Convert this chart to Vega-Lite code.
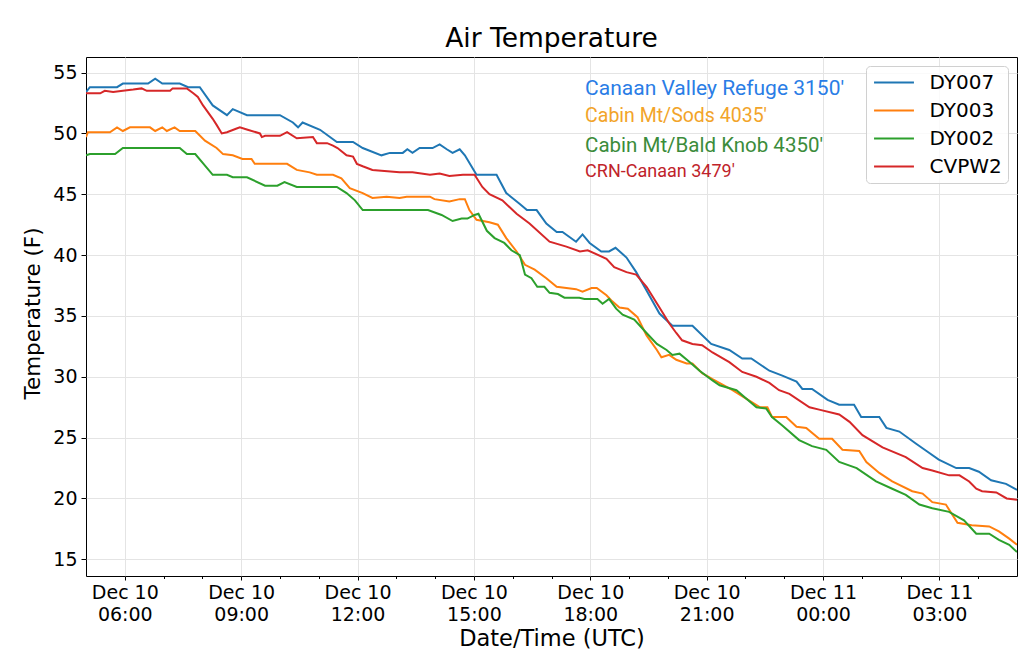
{
  "$schema": "https://vega.github.io/schema/vega-lite/v6.json",
  "width": 931,
  "height": 519,
  "autosize": {"type": "none"},
  "padding": {"left": 86, "top": 57, "right": 7, "bottom": 83},
  "background": "white",
  "config": {
    "font": "DejaVu Sans",
    "view": {"stroke": "#000", "strokeWidth": 1}
  },
  "title": {"text": "Air Temperature", "fontSize": 26.5, "fontWeight": "normal", "font": "DejaVu Sans", "color": "#000", "offset": 9, "dy": 25, "anchor": "middle", "baseline": "alphabetic"},
  "resolve": {"axis": {"x": "independent"}},
  "layer": [
    {
      "data": {"values": [
        {"station":"DY007","time":"2019-12-10T05:00Z","temp":53.4},
        {"station":"DY007","time":"2019-12-10T05:06Z","temp":53.8},
        {"station":"DY007","time":"2019-12-10T05:48Z","temp":53.8},
        {"station":"DY007","time":"2019-12-10T05:57Z","temp":54.1},
        {"station":"DY007","time":"2019-12-10T06:36Z","temp":54.1},
        {"station":"DY007","time":"2019-12-10T06:47Z","temp":54.5},
        {"station":"DY007","time":"2019-12-10T06:58Z","temp":54.1},
        {"station":"DY007","time":"2019-12-10T07:25Z","temp":54.1},
        {"station":"DY007","time":"2019-12-10T07:38Z","temp":53.8},
        {"station":"DY007","time":"2019-12-10T07:56Z","temp":53.8},
        {"station":"DY007","time":"2019-12-10T08:16Z","temp":52.3},
        {"station":"DY007","time":"2019-12-10T08:38Z","temp":51.5},
        {"station":"DY007","time":"2019-12-10T08:47Z","temp":52.0},
        {"station":"DY007","time":"2019-12-10T09:09Z","temp":51.5},
        {"station":"DY007","time":"2019-12-10T10:00Z","temp":51.5},
        {"station":"DY007","time":"2019-12-10T10:20Z","temp":50.9},
        {"station":"DY007","time":"2019-12-10T10:28Z","temp":50.5},
        {"station":"DY007","time":"2019-12-10T10:35Z","temp":50.9},
        {"station":"DY007","time":"2019-12-10T11:02Z","temp":50.3},
        {"station":"DY007","time":"2019-12-10T11:28Z","temp":49.3},
        {"station":"DY007","time":"2019-12-10T11:53Z","temp":49.3},
        {"station":"DY007","time":"2019-12-10T12:08Z","temp":48.8},
        {"station":"DY007","time":"2019-12-10T12:37Z","temp":48.2},
        {"station":"DY007","time":"2019-12-10T12:50Z","temp":48.4},
        {"station":"DY007","time":"2019-12-10T13:10Z","temp":48.4},
        {"station":"DY007","time":"2019-12-10T13:17Z","temp":48.7},
        {"station":"DY007","time":"2019-12-10T13:25Z","temp":48.4},
        {"station":"DY007","time":"2019-12-10T13:36Z","temp":48.8},
        {"station":"DY007","time":"2019-12-10T13:56Z","temp":48.8},
        {"station":"DY007","time":"2019-12-10T14:07Z","temp":49.1},
        {"station":"DY007","time":"2019-12-10T14:18Z","temp":48.7},
        {"station":"DY007","time":"2019-12-10T14:27Z","temp":48.4},
        {"station":"DY007","time":"2019-12-10T14:38Z","temp":48.7},
        {"station":"DY007","time":"2019-12-10T14:46Z","temp":48.2},
        {"station":"DY007","time":"2019-12-10T15:04Z","temp":46.6},
        {"station":"DY007","time":"2019-12-10T15:35Z","temp":46.6},
        {"station":"DY007","time":"2019-12-10T15:50Z","temp":45.1},
        {"station":"DY007","time":"2019-12-10T16:11Z","temp":44.2},
        {"station":"DY007","time":"2019-12-10T16:22Z","temp":43.7},
        {"station":"DY007","time":"2019-12-10T16:37Z","temp":43.7},
        {"station":"DY007","time":"2019-12-10T16:52Z","temp":42.6},
        {"station":"DY007","time":"2019-12-10T17:08Z","temp":41.9},
        {"station":"DY007","time":"2019-12-10T17:17Z","temp":41.9},
        {"station":"DY007","time":"2019-12-10T17:38Z","temp":41.1},
        {"station":"DY007","time":"2019-12-10T17:48Z","temp":41.7},
        {"station":"DY007","time":"2019-12-10T17:59Z","temp":41.0},
        {"station":"DY007","time":"2019-12-10T18:17Z","temp":40.3},
        {"station":"DY007","time":"2019-12-10T18:29Z","temp":40.3},
        {"station":"DY007","time":"2019-12-10T18:39Z","temp":40.6},
        {"station":"DY007","time":"2019-12-10T18:56Z","temp":39.8},
        {"station":"DY007","time":"2019-12-10T19:11Z","temp":38.6},
        {"station":"DY007","time":"2019-12-10T19:27Z","temp":37.1},
        {"station":"DY007","time":"2019-12-10T19:47Z","temp":35.2},
        {"station":"DY007","time":"2019-12-10T20:07Z","temp":34.2},
        {"station":"DY007","time":"2019-12-10T20:38Z","temp":34.2},
        {"station":"DY007","time":"2019-12-10T21:07Z","temp":32.7},
        {"station":"DY007","time":"2019-12-10T21:35Z","temp":32.2},
        {"station":"DY007","time":"2019-12-10T21:55Z","temp":31.5},
        {"station":"DY007","time":"2019-12-10T22:09Z","temp":31.5},
        {"station":"DY007","time":"2019-12-10T22:37Z","temp":30.5},
        {"station":"DY007","time":"2019-12-10T22:57Z","temp":30.1},
        {"station":"DY007","time":"2019-12-10T23:19Z","temp":29.6},
        {"station":"DY007","time":"2019-12-10T23:28Z","temp":29.0},
        {"station":"DY007","time":"2019-12-10T23:43Z","temp":29.0},
        {"station":"DY007","time":"2019-12-11T00:07Z","temp":28.1},
        {"station":"DY007","time":"2019-12-11T00:25Z","temp":27.7},
        {"station":"DY007","time":"2019-12-11T00:48Z","temp":27.7},
        {"station":"DY007","time":"2019-12-11T00:59Z","temp":26.7},
        {"station":"DY007","time":"2019-12-11T01:27Z","temp":26.7},
        {"station":"DY007","time":"2019-12-11T01:38Z","temp":25.8},
        {"station":"DY007","time":"2019-12-11T01:58Z","temp":25.5},
        {"station":"DY007","time":"2019-12-11T02:24Z","temp":24.5},
        {"station":"DY007","time":"2019-12-11T02:40Z","temp":23.9},
        {"station":"DY007","time":"2019-12-11T02:59Z","temp":23.2},
        {"station":"DY007","time":"2019-12-11T03:26Z","temp":22.5},
        {"station":"DY007","time":"2019-12-11T03:46Z","temp":22.5},
        {"station":"DY007","time":"2019-12-11T04:01Z","temp":22.2},
        {"station":"DY007","time":"2019-12-11T04:20Z","temp":21.5},
        {"station":"DY007","time":"2019-12-11T04:43Z","temp":21.2},
        {"station":"DY007","time":"2019-12-11T05:00Z","temp":20.7},

        {"station":"DY003","time":"2019-12-10T05:00Z","temp":49.7},
        {"station":"DY003","time":"2019-12-10T05:03Z","temp":50.1},
        {"station":"DY003","time":"2019-12-10T05:37Z","temp":50.1},
        {"station":"DY003","time":"2019-12-10T05:48Z","temp":50.5},
        {"station":"DY003","time":"2019-12-10T05:57Z","temp":50.2},
        {"station":"DY003","time":"2019-12-10T06:08Z","temp":50.5},
        {"station":"DY003","time":"2019-12-10T06:39Z","temp":50.5},
        {"station":"DY003","time":"2019-12-10T06:47Z","temp":50.2},
        {"station":"DY003","time":"2019-12-10T06:58Z","temp":50.5},
        {"station":"DY003","time":"2019-12-10T07:05Z","temp":50.2},
        {"station":"DY003","time":"2019-12-10T07:17Z","temp":50.5},
        {"station":"DY003","time":"2019-12-10T07:25Z","temp":50.2},
        {"station":"DY003","time":"2019-12-10T07:49Z","temp":50.2},
        {"station":"DY003","time":"2019-12-10T08:04Z","temp":49.4},
        {"station":"DY003","time":"2019-12-10T08:22Z","temp":48.8},
        {"station":"DY003","time":"2019-12-10T08:32Z","temp":48.3},
        {"station":"DY003","time":"2019-12-10T08:47Z","temp":48.2},
        {"station":"DY003","time":"2019-12-10T09:02Z","temp":47.9},
        {"station":"DY003","time":"2019-12-10T09:16Z","temp":47.9},
        {"station":"DY003","time":"2019-12-10T09:21Z","temp":47.5},
        {"station":"DY003","time":"2019-12-10T10:11Z","temp":47.5},
        {"station":"DY003","time":"2019-12-10T10:26Z","temp":47.0},
        {"station":"DY003","time":"2019-12-10T10:46Z","temp":46.8},
        {"station":"DY003","time":"2019-12-10T10:57Z","temp":46.6},
        {"station":"DY003","time":"2019-12-10T11:22Z","temp":46.6},
        {"station":"DY003","time":"2019-12-10T11:35Z","temp":46.3},
        {"station":"DY003","time":"2019-12-10T11:48Z","temp":45.5},
        {"station":"DY003","time":"2019-12-10T12:08Z","temp":45.1},
        {"station":"DY003","time":"2019-12-10T12:23Z","temp":44.7},
        {"station":"DY003","time":"2019-12-10T12:45Z","temp":44.8},
        {"station":"DY003","time":"2019-12-10T13:05Z","temp":44.7},
        {"station":"DY003","time":"2019-12-10T13:16Z","temp":44.8},
        {"station":"DY003","time":"2019-12-10T13:52Z","temp":44.8},
        {"station":"DY003","time":"2019-12-10T13:59Z","temp":44.6},
        {"station":"DY003","time":"2019-12-10T14:22Z","temp":44.4},
        {"station":"DY003","time":"2019-12-10T14:38Z","temp":44.6},
        {"station":"DY003","time":"2019-12-10T14:46Z","temp":44.6},
        {"station":"DY003","time":"2019-12-10T14:53Z","temp":43.7},
        {"station":"DY003","time":"2019-12-10T15:04Z","temp":42.9},
        {"station":"DY003","time":"2019-12-10T15:24Z","temp":42.7},
        {"station":"DY003","time":"2019-12-10T15:37Z","temp":42.5},
        {"station":"DY003","time":"2019-12-10T15:50Z","temp":41.4},
        {"station":"DY003","time":"2019-12-10T16:06Z","temp":40.3},
        {"station":"DY003","time":"2019-12-10T16:19Z","temp":39.2},
        {"station":"DY003","time":"2019-12-10T16:34Z","temp":38.8},
        {"station":"DY003","time":"2019-12-10T16:52Z","temp":38.1},
        {"station":"DY003","time":"2019-12-10T17:08Z","temp":37.4},
        {"station":"DY003","time":"2019-12-10T17:23Z","temp":37.3},
        {"station":"DY003","time":"2019-12-10T17:38Z","temp":37.2},
        {"station":"DY003","time":"2019-12-10T17:48Z","temp":37.0},
        {"station":"DY003","time":"2019-12-10T18:02Z","temp":37.3},
        {"station":"DY003","time":"2019-12-10T18:10Z","temp":37.3},
        {"station":"DY003","time":"2019-12-10T18:25Z","temp":36.7},
        {"station":"DY003","time":"2019-12-10T18:34Z","temp":36.2},
        {"station":"DY003","time":"2019-12-10T18:45Z","temp":35.7},
        {"station":"DY003","time":"2019-12-10T18:58Z","temp":35.6},
        {"station":"DY003","time":"2019-12-10T19:13Z","temp":34.9},
        {"station":"DY003","time":"2019-12-10T19:27Z","temp":33.4},
        {"station":"DY003","time":"2019-12-10T19:43Z","temp":32.2},
        {"station":"DY003","time":"2019-12-10T19:50Z","temp":31.6},
        {"station":"DY003","time":"2019-12-10T20:02Z","temp":31.8},
        {"station":"DY003","time":"2019-12-10T20:13Z","temp":31.4},
        {"station":"DY003","time":"2019-12-10T20:29Z","temp":31.1},
        {"station":"DY003","time":"2019-12-10T20:38Z","temp":31.1},
        {"station":"DY003","time":"2019-12-10T20:53Z","temp":30.3},
        {"station":"DY003","time":"2019-12-10T21:09Z","temp":29.8},
        {"station":"DY003","time":"2019-12-10T21:40Z","temp":28.9},
        {"station":"DY003","time":"2019-12-10T22:01Z","temp":28.2},
        {"station":"DY003","time":"2019-12-10T22:22Z","temp":27.5},
        {"station":"DY003","time":"2019-12-10T22:34Z","temp":27.5},
        {"station":"DY003","time":"2019-12-10T22:41Z","temp":26.7},
        {"station":"DY003","time":"2019-12-10T23:03Z","temp":26.7},
        {"station":"DY003","time":"2019-12-10T23:19Z","temp":25.9},
        {"station":"DY003","time":"2019-12-10T23:34Z","temp":25.8},
        {"station":"DY003","time":"2019-12-10T23:54Z","temp":24.9},
        {"station":"DY003","time":"2019-12-11T00:14Z","temp":24.9},
        {"station":"DY003","time":"2019-12-11T00:30Z","temp":24.0},
        {"station":"DY003","time":"2019-12-11T00:56Z","temp":23.9},
        {"station":"DY003","time":"2019-12-11T01:07Z","temp":23.0},
        {"station":"DY003","time":"2019-12-11T01:27Z","temp":22.1},
        {"station":"DY003","time":"2019-12-11T01:47Z","temp":21.4},
        {"station":"DY003","time":"2019-12-11T02:18Z","temp":20.6},
        {"station":"DY003","time":"2019-12-11T02:34Z","temp":20.4},
        {"station":"DY003","time":"2019-12-11T02:49Z","temp":19.7},
        {"station":"DY003","time":"2019-12-11T03:10Z","temp":19.5},
        {"station":"DY003","time":"2019-12-11T03:28Z","temp":18.0},
        {"station":"DY003","time":"2019-12-11T03:50Z","temp":17.8},
        {"station":"DY003","time":"2019-12-11T04:17Z","temp":17.7},
        {"station":"DY003","time":"2019-12-11T04:32Z","temp":17.3},
        {"station":"DY003","time":"2019-12-11T04:48Z","temp":16.7},
        {"station":"DY003","time":"2019-12-11T05:00Z","temp":16.2},

        {"station":"DY002","time":"2019-12-10T05:00Z","temp":48.2},
        {"station":"DY002","time":"2019-12-10T05:06Z","temp":48.3},
        {"station":"DY002","time":"2019-12-10T05:45Z","temp":48.3},
        {"station":"DY002","time":"2019-12-10T05:57Z","temp":48.8},
        {"station":"DY002","time":"2019-12-10T07:25Z","temp":48.8},
        {"station":"DY002","time":"2019-12-10T07:36Z","temp":48.3},
        {"station":"DY002","time":"2019-12-10T07:49Z","temp":48.3},
        {"station":"DY002","time":"2019-12-10T08:16Z","temp":46.6},
        {"station":"DY002","time":"2019-12-10T08:38Z","temp":46.6},
        {"station":"DY002","time":"2019-12-10T08:47Z","temp":46.4},
        {"station":"DY002","time":"2019-12-10T09:09Z","temp":46.4},
        {"station":"DY002","time":"2019-12-10T09:37Z","temp":45.7},
        {"station":"DY002","time":"2019-12-10T09:56Z","temp":45.7},
        {"station":"DY002","time":"2019-12-10T10:07Z","temp":46.0},
        {"station":"DY002","time":"2019-12-10T10:26Z","temp":45.6},
        {"station":"DY002","time":"2019-12-10T11:28Z","temp":45.6},
        {"station":"DY002","time":"2019-12-10T11:43Z","temp":45.1},
        {"station":"DY002","time":"2019-12-10T11:56Z","temp":44.5},
        {"station":"DY002","time":"2019-12-10T12:08Z","temp":43.7},
        {"station":"DY002","time":"2019-12-10T13:49Z","temp":43.7},
        {"station":"DY002","time":"2019-12-10T14:10Z","temp":43.3},
        {"station":"DY002","time":"2019-12-10T14:27Z","temp":42.8},
        {"station":"DY002","time":"2019-12-10T14:41Z","temp":43.0},
        {"station":"DY002","time":"2019-12-10T14:50Z","temp":43.0},
        {"station":"DY002","time":"2019-12-10T15:01Z","temp":43.3},
        {"station":"DY002","time":"2019-12-10T15:07Z","temp":43.4},
        {"station":"DY002","time":"2019-12-10T15:20Z","temp":42.0},
        {"station":"DY002","time":"2019-12-10T15:32Z","temp":41.4},
        {"station":"DY002","time":"2019-12-10T15:47Z","temp":41.0},
        {"station":"DY002","time":"2019-12-10T15:58Z","temp":40.4},
        {"station":"DY002","time":"2019-12-10T16:11Z","temp":40.0},
        {"station":"DY002","time":"2019-12-10T16:19Z","temp":38.4},
        {"station":"DY002","time":"2019-12-10T16:29Z","temp":38.1},
        {"station":"DY002","time":"2019-12-10T16:38Z","temp":37.4},
        {"station":"DY002","time":"2019-12-10T16:49Z","temp":37.4},
        {"station":"DY002","time":"2019-12-10T16:57Z","temp":36.9},
        {"station":"DY002","time":"2019-12-10T17:10Z","temp":36.8},
        {"station":"DY002","time":"2019-12-10T17:20Z","temp":36.5},
        {"station":"DY002","time":"2019-12-10T17:43Z","temp":36.5},
        {"station":"DY002","time":"2019-12-10T17:51Z","temp":36.4},
        {"station":"DY002","time":"2019-12-10T18:11Z","temp":36.4},
        {"station":"DY002","time":"2019-12-10T18:19Z","temp":36.0},
        {"station":"DY002","time":"2019-12-10T18:29Z","temp":36.4},
        {"station":"DY002","time":"2019-12-10T18:40Z","temp":35.6},
        {"station":"DY002","time":"2019-12-10T18:50Z","temp":35.1},
        {"station":"DY002","time":"2019-12-10T19:08Z","temp":34.7},
        {"station":"DY002","time":"2019-12-10T19:27Z","temp":33.6},
        {"station":"DY002","time":"2019-12-10T19:43Z","temp":32.7},
        {"station":"DY002","time":"2019-12-10T19:58Z","temp":32.2},
        {"station":"DY002","time":"2019-12-10T20:07Z","temp":31.8},
        {"station":"DY002","time":"2019-12-10T20:18Z","temp":31.9},
        {"station":"DY002","time":"2019-12-10T20:34Z","temp":31.2},
        {"station":"DY002","time":"2019-12-10T20:49Z","temp":30.5},
        {"station":"DY002","time":"2019-12-10T21:09Z","temp":29.7},
        {"station":"DY002","time":"2019-12-10T21:20Z","temp":29.3},
        {"station":"DY002","time":"2019-12-10T21:46Z","temp":28.9},
        {"station":"DY002","time":"2019-12-10T22:17Z","temp":27.5},
        {"station":"DY002","time":"2019-12-10T22:32Z","temp":27.4},
        {"station":"DY002","time":"2019-12-10T22:41Z","temp":26.7},
        {"station":"DY002","time":"2019-12-10T22:57Z","temp":26.0},
        {"station":"DY002","time":"2019-12-10T23:23Z","temp":24.8},
        {"station":"DY002","time":"2019-12-10T23:43Z","temp":24.3},
        {"station":"DY002","time":"2019-12-11T00:05Z","temp":24.0},
        {"station":"DY002","time":"2019-12-11T00:25Z","temp":23.0},
        {"station":"DY002","time":"2019-12-11T00:52Z","temp":22.5},
        {"station":"DY002","time":"2019-12-11T01:22Z","temp":21.4},
        {"station":"DY002","time":"2019-12-11T01:47Z","temp":20.8},
        {"station":"DY002","time":"2019-12-11T02:08Z","temp":20.3},
        {"station":"DY002","time":"2019-12-11T02:29Z","temp":19.5},
        {"station":"DY002","time":"2019-12-11T02:49Z","temp":19.2},
        {"station":"DY002","time":"2019-12-11T03:15Z","temp":18.9},
        {"station":"DY002","time":"2019-12-11T03:38Z","temp":18.2},
        {"station":"DY002","time":"2019-12-11T03:57Z","temp":17.1},
        {"station":"DY002","time":"2019-12-11T04:17Z","temp":17.1},
        {"station":"DY002","time":"2019-12-11T04:32Z","temp":16.6},
        {"station":"DY002","time":"2019-12-11T04:48Z","temp":16.2},
        {"station":"DY002","time":"2019-12-11T05:00Z","temp":15.6},

        {"station":"CVPW2","time":"2019-12-10T05:00Z","temp":53.3},
        {"station":"CVPW2","time":"2019-12-10T05:22Z","temp":53.3},
        {"station":"CVPW2","time":"2019-12-10T05:29Z","temp":53.5},
        {"station":"CVPW2","time":"2019-12-10T05:42Z","temp":53.4},
        {"station":"CVPW2","time":"2019-12-10T05:57Z","temp":53.5},
        {"station":"CVPW2","time":"2019-12-10T06:13Z","temp":53.6},
        {"station":"CVPW2","time":"2019-12-10T06:26Z","temp":53.7},
        {"station":"CVPW2","time":"2019-12-10T06:34Z","temp":53.5},
        {"station":"CVPW2","time":"2019-12-10T07:10Z","temp":53.5},
        {"station":"CVPW2","time":"2019-12-10T07:14Z","temp":53.7},
        {"station":"CVPW2","time":"2019-12-10T07:36Z","temp":53.7},
        {"station":"CVPW2","time":"2019-12-10T07:46Z","temp":53.3},
        {"station":"CVPW2","time":"2019-12-10T07:53Z","temp":53.0},
        {"station":"CVPW2","time":"2019-12-10T08:01Z","temp":52.3},
        {"station":"CVPW2","time":"2019-12-10T08:16Z","temp":51.2},
        {"station":"CVPW2","time":"2019-12-10T08:22Z","temp":50.7},
        {"station":"CVPW2","time":"2019-12-10T08:30Z","temp":50.0},
        {"station":"CVPW2","time":"2019-12-10T08:38Z","temp":50.1},
        {"station":"CVPW2","time":"2019-12-10T08:53Z","temp":50.4},
        {"station":"CVPW2","time":"2019-12-10T08:58Z","temp":50.5},
        {"station":"CVPW2","time":"2019-12-10T09:10Z","temp":50.3},
        {"station":"CVPW2","time":"2019-12-10T09:29Z","temp":50.0},
        {"station":"CVPW2","time":"2019-12-10T09:32Z","temp":49.7},
        {"station":"CVPW2","time":"2019-12-10T09:37Z","temp":49.8},
        {"station":"CVPW2","time":"2019-12-10T10:00Z","temp":49.8},
        {"station":"CVPW2","time":"2019-12-10T10:11Z","temp":50.1},
        {"station":"CVPW2","time":"2019-12-10T10:26Z","temp":49.6},
        {"station":"CVPW2","time":"2019-12-10T10:51Z","temp":49.7},
        {"station":"CVPW2","time":"2019-12-10T10:57Z","temp":49.2},
        {"station":"CVPW2","time":"2019-12-10T11:13Z","temp":49.2},
        {"station":"CVPW2","time":"2019-12-10T11:22Z","temp":49.0},
        {"station":"CVPW2","time":"2019-12-10T11:29Z","temp":48.8},
        {"station":"CVPW2","time":"2019-12-10T11:43Z","temp":48.2},
        {"station":"CVPW2","time":"2019-12-10T11:53Z","temp":48.1},
        {"station":"CVPW2","time":"2019-12-10T11:59Z","temp":47.5},
        {"station":"CVPW2","time":"2019-12-10T12:08Z","temp":47.3},
        {"station":"CVPW2","time":"2019-12-10T12:23Z","temp":47.0},
        {"station":"CVPW2","time":"2019-12-10T13:05Z","temp":46.8},
        {"station":"CVPW2","time":"2019-12-10T13:25Z","temp":46.8},
        {"station":"CVPW2","time":"2019-12-10T13:52Z","temp":46.6},
        {"station":"CVPW2","time":"2019-12-10T14:07Z","temp":46.7},
        {"station":"CVPW2","time":"2019-12-10T14:22Z","temp":46.5},
        {"station":"CVPW2","time":"2019-12-10T14:43Z","temp":46.6},
        {"station":"CVPW2","time":"2019-12-10T15:01Z","temp":46.6},
        {"station":"CVPW2","time":"2019-12-10T15:13Z","temp":45.6},
        {"station":"CVPW2","time":"2019-12-10T15:24Z","temp":45.0},
        {"station":"CVPW2","time":"2019-12-10T15:44Z","temp":44.5},
        {"station":"CVPW2","time":"2019-12-10T16:06Z","temp":43.4},
        {"station":"CVPW2","time":"2019-12-10T16:26Z","temp":42.6},
        {"station":"CVPW2","time":"2019-12-10T16:57Z","temp":41.1},
        {"station":"CVPW2","time":"2019-12-10T17:23Z","temp":40.7},
        {"station":"CVPW2","time":"2019-12-10T17:44Z","temp":40.3},
        {"station":"CVPW2","time":"2019-12-10T17:56Z","temp":40.4},
        {"station":"CVPW2","time":"2019-12-10T18:25Z","temp":39.7},
        {"station":"CVPW2","time":"2019-12-10T18:37Z","temp":39.0},
        {"station":"CVPW2","time":"2019-12-10T18:56Z","temp":38.6},
        {"station":"CVPW2","time":"2019-12-10T19:11Z","temp":38.4},
        {"station":"CVPW2","time":"2019-12-10T19:27Z","temp":37.4},
        {"station":"CVPW2","time":"2019-12-10T19:47Z","temp":35.7},
        {"station":"CVPW2","time":"2019-12-10T20:02Z","temp":34.4},
        {"station":"CVPW2","time":"2019-12-10T20:13Z","temp":33.6},
        {"station":"CVPW2","time":"2019-12-10T20:22Z","temp":33.0},
        {"station":"CVPW2","time":"2019-12-10T20:38Z","temp":32.7},
        {"station":"CVPW2","time":"2019-12-10T20:53Z","temp":32.6},
        {"station":"CVPW2","time":"2019-12-10T21:09Z","temp":32.0},
        {"station":"CVPW2","time":"2019-12-10T21:35Z","temp":31.2},
        {"station":"CVPW2","time":"2019-12-10T21:55Z","temp":30.4},
        {"station":"CVPW2","time":"2019-12-10T22:17Z","temp":30.0},
        {"station":"CVPW2","time":"2019-12-10T22:37Z","temp":29.5},
        {"station":"CVPW2","time":"2019-12-10T22:52Z","temp":28.9},
        {"station":"CVPW2","time":"2019-12-10T23:08Z","temp":28.6},
        {"station":"CVPW2","time":"2019-12-10T23:39Z","temp":27.5},
        {"station":"CVPW2","time":"2019-12-10T23:54Z","temp":27.3},
        {"station":"CVPW2","time":"2019-12-11T00:25Z","temp":26.9},
        {"station":"CVPW2","time":"2019-12-11T00:41Z","temp":26.3},
        {"station":"CVPW2","time":"2019-12-11T01:01Z","temp":25.2},
        {"station":"CVPW2","time":"2019-12-11T01:32Z","temp":24.2},
        {"station":"CVPW2","time":"2019-12-11T02:08Z","temp":23.4},
        {"station":"CVPW2","time":"2019-12-11T02:34Z","temp":22.5},
        {"station":"CVPW2","time":"2019-12-11T02:49Z","temp":22.3},
        {"station":"CVPW2","time":"2019-12-11T03:15Z","temp":21.9},
        {"station":"CVPW2","time":"2019-12-11T03:31Z","temp":21.9},
        {"station":"CVPW2","time":"2019-12-11T03:46Z","temp":21.4},
        {"station":"CVPW2","time":"2019-12-11T03:57Z","temp":20.8},
        {"station":"CVPW2","time":"2019-12-11T04:06Z","temp":20.6},
        {"station":"CVPW2","time":"2019-12-11T04:28Z","temp":20.5},
        {"station":"CVPW2","time":"2019-12-11T04:44Z","temp":20.0},
        {"station":"CVPW2","time":"2019-12-11T05:00Z","temp":19.9}
      ]},
      "mark": {"type": "line", "strokeWidth": 2, "clip": true},
      "encoding": {
        "x": {
          "field": "time", "type": "temporal",
          "scale": {"type": "utc", "domain": [{"year": 2019, "month": 12, "date": 10, "hours": 5, "utc": true}, {"year": 2019, "month": 12, "date": 11, "hours": 5, "utc": true}], "nice": false},
          "axis": {
            "orient": "bottom",
            "values": [
              {"year": 2019, "month": 12, "date": 10, "hours": 6, "utc": true},
              {"year": 2019, "month": 12, "date": 10, "hours": 9, "utc": true},
              {"year": 2019, "month": 12, "date": 10, "hours": 12, "utc": true},
              {"year": 2019, "month": 12, "date": 10, "hours": 15, "utc": true},
              {"year": 2019, "month": 12, "date": 10, "hours": 18, "utc": true},
              {"year": 2019, "month": 12, "date": 10, "hours": 21, "utc": true},
              {"year": 2019, "month": 12, "date": 11, "hours": 0, "utc": true},
              {"year": 2019, "month": 12, "date": 11, "hours": 3, "utc": true}
            ],
            "labelExpr": "[utcFormat(datum.value, '%b %d'), utcFormat(datum.value, '%H:%M')]",
            "labelFont": "DejaVu Sans", "labelFontSize": 19, "labelLineHeight": 22, "labelPadding": 3, "labelColor": "#000",
            "labelFlush": false, "labelOverlap": false,
            "tickSize": 4, "tickColor": "#000", "tickWidth": 1,
            "domain": false,
            "grid": true, "gridColor": "#e4e4e4", "gridWidth": 1,
            "title": "Date/Time (UTC)", "titleFont": "DejaVu Sans", "titleFontSize": 22.5, "titleFontWeight": "normal", "titleColor": "#000",
            "titleY": 62, "titleBaseline": "middle"
          }
        },
        "y": {
          "field": "temp", "type": "quantitative",
          "scale": {"domain": [13.63, 56.28], "nice": false, "zero": false},
          "axis": {
            "values": [15, 20, 25, 30, 35, 40, 45, 50, 55],
            "labelFont": "DejaVu Sans", "labelFontSize": 19, "labelColor": "#000", "labelPadding": 4,
            "tickSize": 5, "tickColor": "#000", "tickWidth": 1,
            "domain": false,
            "grid": true, "gridColor": "#e4e4e4", "gridWidth": 1,
            "title": "Temperature (F)", "titleFont": "DejaVu Sans", "titleFontSize": 21.5, "titleFontWeight": "normal", "titleColor": "#000",
            "titleX": -53, "titleY": 256, "titleAngle": -90, "titleAlign": "center", "titleBaseline": "middle"
          }
        },
        "color": {
          "field": "station", "type": "nominal",
          "scale": {"domain": ["DY007", "DY003", "DY002", "CVPW2"], "range": ["#1f77b4", "#ff7f0e", "#2ca02c", "#d62728"]},
          "legend": {
            "title": null, "orient": "none", "legendX": 780, "legendY": 9,
            "symbolType": "M-2.1,0H2.1", "symbolSize": 361, "symbolStrokeWidth": 2, "symbolOffset": 11.5,
            "labelFont": "DejaVu Sans", "labelFontSize": 20, "labelColor": "#000", "labelOffset": 25,
            "padding": 6, "rowPadding": 7,
            "strokeColor": "#d0d0d0", "fillColor": "rgba(255,255,255,0.8)", "cornerRadius": 4
          }
        }
      }
    },
    {
      "data": {"values": [{}]},
      "mark": {"type": "text", "align": "left", "baseline": "alphabetic", "font": "Roboto", "fontSize": 21, "color": "#2a7de6", "text": "Canaan Valley Refuge 3150'"},
      "encoding": {
        "x": {"datum": {"year": 2019, "month": 12, "date": 10, "hours": 17, "minutes": 52, "utc": true}, "type": "temporal",
          "axis": {
            "orient": "bottom",
            "values": [
              {"year": 2019, "month": 12, "date": 10, "hours": 7, "utc": true},
              {"year": 2019, "month": 12, "date": 10, "hours": 8, "utc": true},
              {"year": 2019, "month": 12, "date": 10, "hours": 10, "utc": true},
              {"year": 2019, "month": 12, "date": 10, "hours": 11, "utc": true},
              {"year": 2019, "month": 12, "date": 10, "hours": 13, "utc": true},
              {"year": 2019, "month": 12, "date": 10, "hours": 14, "utc": true},
              {"year": 2019, "month": 12, "date": 10, "hours": 16, "utc": true},
              {"year": 2019, "month": 12, "date": 10, "hours": 17, "utc": true},
              {"year": 2019, "month": 12, "date": 10, "hours": 19, "utc": true},
              {"year": 2019, "month": 12, "date": 10, "hours": 20, "utc": true},
              {"year": 2019, "month": 12, "date": 10, "hours": 22, "utc": true},
              {"year": 2019, "month": 12, "date": 10, "hours": 23, "utc": true},
              {"year": 2019, "month": 12, "date": 11, "hours": 1, "utc": true},
              {"year": 2019, "month": 12, "date": 11, "hours": 2, "utc": true},
              {"year": 2019, "month": 12, "date": 11, "hours": 4, "utc": true}
            ],
            "labels": false, "grid": false, "domain": false, "ticks": true, "tickSize": 2.5, "tickColor": "#000", "tickWidth": 1, "title": null
          }},
        "y": {"datum": 53.14, "type": "quantitative"}
      }
    },
    {
      "data": {"values": [{}]},
      "mark": {"type": "text", "align": "left", "baseline": "alphabetic", "font": "Roboto", "fontSize": 19.5, "color": "#f2a42a", "text": "Cabin Mt/Sods 4035'"},
      "encoding": {
        "x": {"datum": {"year": 2019, "month": 12, "date": 10, "hours": 17, "minutes": 52, "utc": true}, "type": "temporal", "axis": null},
        "y": {"datum": 50.94, "type": "quantitative"}
      }
    },
    {
      "data": {"values": [{}]},
      "mark": {"type": "text", "align": "left", "baseline": "alphabetic", "font": "Roboto", "fontSize": 20.5, "color": "#3b8c3b", "text": "Cabin Mt/Bald Knob 4350'"},
      "encoding": {
        "x": {"datum": {"year": 2019, "month": 12, "date": 10, "hours": 17, "minutes": 52, "utc": true}, "type": "temporal", "axis": null},
        "y": {"datum": 48.48, "type": "quantitative"}
      }
    },
    {
      "data": {"values": [{}]},
      "mark": {"type": "text", "align": "left", "baseline": "alphabetic", "font": "Roboto", "fontSize": 18, "color": "#c0232a", "text": "CRN-Canaan 3479'"},
      "encoding": {
        "x": {"datum": {"year": 2019, "month": 12, "date": 10, "hours": 17, "minutes": 52, "utc": true}, "type": "temporal", "axis": null},
        "y": {"datum": 46.42, "type": "quantitative"}
      }
    }
  ]
}
